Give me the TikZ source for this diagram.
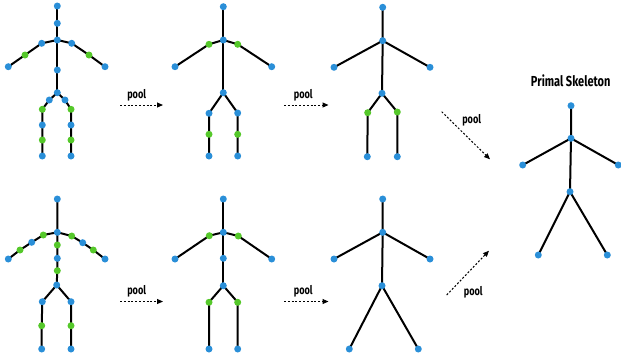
\documentclass[tikz,border=0pt]{standalone}
\usepackage{fontspec}
\setmainfont{Fira Sans}[FakeStretch=0.76]
\usetikzlibrary{arrows.meta}
\pgfdeclarelayer{bg}
\pgfsetlayers{bg,main}
\definecolor{jblue}{HTML}{2A8FD8}
\definecolor{jgreen}{HTML}{55C82A}
\tikzset{
  jb/.style={circle,inner sep=0pt,minimum size=7pt,fill=jblue},
  jg/.style={circle,inner sep=0pt,minimum size=7pt,fill=jgreen},
  bone/.style={line width=2pt,black},
  poolarrow/.style={line width=1pt,dash pattern=on 2pt off 1.8pt,-{Triangle[length=6pt,width=5pt]}},
  poollabel/.style={font=\bfseries\fontsize{12}{13}\selectfont,inner sep=0pt},
  titlelabel/.style={font=\bfseries\fontsize{14.5}{15}\selectfont,inner sep=0pt}
}
\begin{document}
\begin{tikzpicture}[x=1pt,y=-1pt]
\useasboundingbox (0,0) rectangle (621,360);
% ---------- Skeleton A (top left)
\node[jb] (A-hd) at (57.3,6) {};
\node[jb] (A-nk) at (57.3,23.3) {};
\node[jb] (A-ch) at (57.3,40) {};
\node[jb] (A-ls) at (41.7,43.3) {};
\node[jg] (A-le) at (25,55) {};
\node[jb] (A-lh) at (8.3,66.7) {};
\node[jb] (A-rs) at (71.7,43.3) {};
\node[jg] (A-re) at (89,55) {};
\node[jb] (A-rh) at (105,66.7) {};
\node[jb] (A-sp) at (57.3,70) {};
\node[jb] (A-pv) at (57.3,92.7) {};
\node[jb] (A-lp) at (49.3,100) {};
\node[jb] (A-rp) at (65,100) {};
\node[jg] (A-l1) at (42.3,109.3) {};
\node[jb] (A-l2) at (42.3,125) {};
\node[jg] (A-l3) at (42.3,140) {};
\node[jb] (A-lf) at (42.3,156) {};
\node[jg] (A-r1) at (71,109.3) {};
\node[jb] (A-r2) at (71,125) {};
\node[jg] (A-r3) at (71,140) {};
\node[jb] (A-rf) at (71,156) {};
% ---------- Skeleton B (bottom left)
\node[jb] (B-hd) at (57.3,199) {};
\node[jb] (B-ch) at (57.3,232.3) {};
\node[jg] (B-a1) at (43.3,235) {};
\node[jb] (B-a2) at (31.7,242.3) {};
\node[jg] (B-a3) at (20,250) {};
\node[jb] (B-lh) at (8.3,259) {};
\node[jg] (B-b1) at (71.7,236) {};
\node[jb] (B-b2) at (82.7,242.7) {};
\node[jg] (B-b3) at (93.3,250) {};
\node[jb] (B-rh) at (105,259) {};
\node[jg] (B-s1) at (57.3,245) {};
\node[jb] (B-s2) at (57.3,258.3) {};
\node[jg] (B-s3) at (57.3,270.7) {};
\node[jb] (B-pv) at (56.7,285) {};
\node[jb] (B-lp) at (42.3,301.7) {};
\node[jb] (B-rp) at (71,301.7) {};
\node[jg] (B-lk) at (41.7,325.7) {};
\node[jg] (B-rk) at (71,325.7) {};
\node[jb] (B-lf) at (41.7,349) {};
\node[jb] (B-rf) at (71,349) {};
% ---------- Skeleton C (top middle)
\node[jb] (C-hd) at (223.3,6.7) {};
\node[jb] (C-ch) at (223.3,40) {};
\node[jg] (C-lg) at (209,44.3) {};
\node[jg] (C-rg) at (237.7,44.3) {};
\node[jb] (C-lh) at (175,66.7) {};
\node[jb] (C-rh) at (271.7,66.7) {};
\node[jb] (C-pv) at (223.3,92.7) {};
\node[jb] (C-lp) at (209,113.3) {};
\node[jb] (C-rp) at (237.7,113) {};
\node[jg] (C-lk) at (209,134.3) {};
\node[jg] (C-rk) at (237.7,134.3) {};
\node[jb] (C-lf) at (209,156) {};
\node[jb] (C-rf) at (237.7,156) {};
% ---------- Skeleton D (bottom middle)
\node[jb] (D-hd) at (223.3,199) {};
\node[jb] (D-ch) at (223.3,232.3) {};
\node[jg] (D-lg) at (209.3,235.7) {};
\node[jg] (D-rg) at (238.3,236) {};
\node[jb] (D-lh) at (175,259) {};
\node[jb] (D-rh) at (271.7,259) {};
\node[jb] (D-sp) at (223.3,258.3) {};
\node[jb] (D-pv) at (223.3,285.7) {};
\node[jg] (D-lp) at (209,302.3) {};
\node[jg] (D-rp) at (237.7,302.3) {};
\node[jb] (D-lf) at (209,349) {};
\node[jb] (D-rf) at (237.7,349) {};
% ---------- Skeleton E (top right)
\node[jb] (E-hd) at (382.7,7.3) {};
\node[jb] (E-ch) at (382.7,40.7) {};
\node[jb] (E-lh) at (334,67.3) {};
\node[jb] (E-rh) at (430,67.3) {};
\node[jb] (E-pv) at (382,93.3) {};
\node[jg] (E-lk) at (367.7,112.7) {};
\node[jg] (E-rk) at (397.3,112) {};
\node[jb] (E-lf) at (367.3,156.7) {};
\node[jb] (E-rf) at (397.3,156.7) {};
% ---------- Skeleton F (bottom right)
\node[jb] (F-hd) at (382.7,199) {};
\node[jb] (F-ch) at (382.7,232.3) {};
\node[jb] (F-lh) at (334,259) {};
\node[jb] (F-rh) at (430,259) {};
\node[jb] (F-pv) at (382,285.7) {};
\node[jb] (F-lf) at (349.3,349) {};
\node[jb] (F-rf) at (418.3,349) {};
% ---------- Primal skeleton
\node[titlelabel] (title) at (570.7,80.7) {Primal Skeleton};
\node[jb] (P-hd) at (571,105.7) {};
\node[jb] (P-ch) at (571,138.3) {};
\node[jb] (P-lh) at (522.7,165) {};
\node[jb] (P-rh) at (618.3,165) {};
\node[jb] (P-pv) at (570,191.7) {};
\node[jb] (P-lf) at (538.3,255) {};
\node[jb] (P-rf) at (607.3,255) {};
% ---------- bones
\begin{pgfonlayer}{bg}
\draw[bone] (A-hd.center) -- (A-nk.center) -- (A-ch.center) -- (A-sp.center) -- (A-pv.center);
\draw[bone] (A-ch.center) -- (A-ls.center) -- (A-le.center) -- (A-lh.center);
\draw[bone] (A-ch.center) -- (A-rs.center) -- (A-re.center) -- (A-rh.center);
\draw[bone] (A-pv.center) -- (A-lp.center) -- (A-l1.center) -- (A-l2.center) -- (A-l3.center) -- (A-lf.center);
\draw[bone] (A-pv.center) -- (A-rp.center) -- (A-r1.center) -- (A-r2.center) -- (A-r3.center) -- (A-rf.center);
\draw[bone] (B-hd.center) -- (B-ch.center) -- (B-s1.center) -- (B-s2.center) -- (B-s3.center) -- (B-pv.center);
\draw[bone] (B-ch.center) -- (B-a1.center) -- (B-a2.center) -- (B-a3.center) -- (B-lh.center);
\draw[bone] (B-ch.center) -- (B-b1.center) -- (B-b2.center) -- (B-b3.center) -- (B-rh.center);
\draw[bone] (B-pv.center) -- (B-lp.center) -- (B-lk.center) -- (B-lf.center);
\draw[bone] (B-pv.center) -- (B-rp.center) -- (B-rk.center) -- (B-rf.center);
\draw[bone] (C-hd.center) -- (C-ch.center) -- (C-pv.center);
\draw[bone] (C-ch.center) -- (C-lg.center) -- (C-lh.center);
\draw[bone] (C-ch.center) -- (C-rg.center) -- (C-rh.center);
\draw[bone] (C-pv.center) -- (C-lp.center) -- (C-lk.center) -- (C-lf.center);
\draw[bone] (C-pv.center) -- (C-rp.center) -- (C-rk.center) -- (C-rf.center);
\draw[bone] (D-hd.center) -- (D-ch.center) -- (D-sp.center) -- (D-pv.center);
\draw[bone] (D-ch.center) -- (D-lg.center) -- (D-lh.center);
\draw[bone] (D-ch.center) -- (D-rg.center) -- (D-rh.center);
\draw[bone] (D-pv.center) -- (D-lp.center) -- (D-lf.center);
\draw[bone] (D-pv.center) -- (D-rp.center) -- (D-rf.center);
\draw[bone] (E-hd.center) -- (E-ch.center) -- (E-pv.center);
\draw[bone] (E-lh.center) -- (E-ch.center) -- (E-rh.center);
\draw[bone] (E-pv.center) -- (E-lk.center) -- (E-lf.center);
\draw[bone] (E-pv.center) -- (E-rk.center) -- (E-rf.center);
\draw[bone] (F-hd.center) -- (F-ch.center) -- (F-pv.center);
\draw[bone] (F-lh.center) -- (F-ch.center) -- (F-rh.center);
\draw[bone] (F-lf.center) -- (F-pv.center) -- (F-rf.center);
\draw[bone] (P-hd.center) -- (P-ch.center) -- (P-pv.center);
\draw[bone] (P-lh.center) -- (P-ch.center) -- (P-rh.center);
\draw[bone] (P-lf.center) -- (P-pv.center) -- (P-rf.center);
\end{pgfonlayer}
% ---------- pool arrows
\coordinate (a1s) at (120,105);   \coordinate (a1e) at (163,105);
\coordinate (a2s) at (120,301.5); \coordinate (a2e) at (163,301.5);
\coordinate (a3s) at (284,105);   \coordinate (a3e) at (328.5,105);
\coordinate (a4s) at (284,301.5); \coordinate (a4e) at (328.5,301.5);
\coordinate (a5s) at (441.7,111.7); \coordinate (a5e) at (490,159.3);
\coordinate (a6s) at (446.7,295);   \coordinate (a6e) at (489,250.7);
\draw[poolarrow] (a1s) -- (a1e);
\draw[poolarrow] (a2s) -- (a2e);
\draw[poolarrow] (a3s) -- (a3e);
\draw[poolarrow] (a4s) -- (a4e);
\draw[poolarrow] (a5s) -- (a5e);
\draw[poolarrow] (a6s) -- (a6e);
\node[poollabel] (p1) at (136.7,95.5) {pool};
\node[poollabel] (p2) at (136.7,291) {pool};
\node[poollabel] (p3) at (303.3,95.5) {pool};
\node[poollabel] (p4) at (303.3,291) {pool};
\node[poollabel] (p5) at (471.7,120.7) {pool};
\node[poollabel] (p6) at (473.3,292.7) {pool};
\end{tikzpicture}
\end{document}
